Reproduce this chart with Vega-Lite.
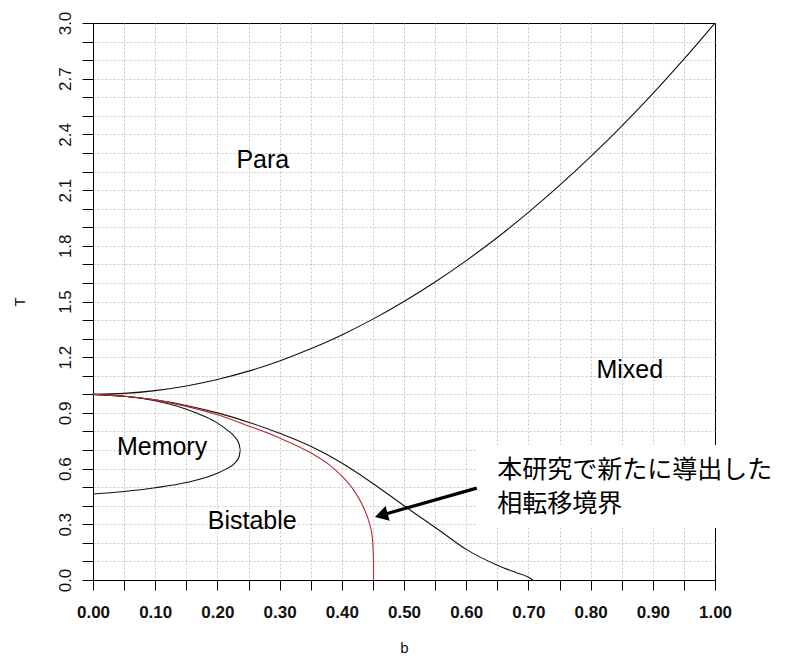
{
  "$schema": "https://vega.github.io/schema/vega-lite/v6.json",
  "width": 622,
  "height": 557,
  "autosize": {"type": "none"},
  "padding": {"left": 93, "top": 23, "right": 75, "bottom": 85},
  "background": "white",
  "config": {
    "font": "Liberation Sans",
    "view": {"stroke": "black", "strokeWidth": 1},
    "axis": {
      "domainColor": "black",
      "tickColor": "black",
      "labelColor": "#111111",
      "titleColor": "#111111",
      "gridColor": "#c8c8c8",
      "gridDash": [2, 2],
      "gridWidth": 1,
      "labelOverlap": false,
      "labelFlush": false,
      "titleFontWeight": "normal",
      "tickCount": 60
    }
  },
  "datasets": {
    "curves": [
      {"series": "upper", "order": 0, "b": 0.0, "T": 1.0},
      {"series": "upper", "order": 1, "b": 0.05, "T": 1.005},
      {"series": "upper", "order": 2, "b": 0.1, "T": 1.02},
      {"series": "upper", "order": 3, "b": 0.15, "T": 1.045},
      {"series": "upper", "order": 4, "b": 0.2, "T": 1.08},
      {"series": "upper", "order": 5, "b": 0.25, "T": 1.125},
      {"series": "upper", "order": 6, "b": 0.3, "T": 1.18},
      {"series": "upper", "order": 7, "b": 0.35, "T": 1.245},
      {"series": "upper", "order": 8, "b": 0.4, "T": 1.32},
      {"series": "upper", "order": 9, "b": 0.45, "T": 1.405},
      {"series": "upper", "order": 10, "b": 0.5, "T": 1.5},
      {"series": "upper", "order": 11, "b": 0.55, "T": 1.605},
      {"series": "upper", "order": 12, "b": 0.6, "T": 1.72},
      {"series": "upper", "order": 13, "b": 0.65, "T": 1.845},
      {"series": "upper", "order": 14, "b": 0.7, "T": 1.98},
      {"series": "upper", "order": 15, "b": 0.75, "T": 2.125},
      {"series": "upper", "order": 16, "b": 0.8, "T": 2.28},
      {"series": "upper", "order": 17, "b": 0.85, "T": 2.445},
      {"series": "upper", "order": 18, "b": 0.9, "T": 2.62},
      {"series": "upper", "order": 19, "b": 0.95, "T": 2.805},
      {"series": "upper", "order": 20, "b": 1.0, "T": 3.0},

      {"series": "lower", "order": 0, "b": 0.0, "T": 1.0},
      {"series": "lower", "order": 1, "b": 0.05, "T": 0.99},
      {"series": "lower", "order": 2, "b": 0.1, "T": 0.97},
      {"series": "lower", "order": 3, "b": 0.15, "T": 0.94},
      {"series": "lower", "order": 4, "b": 0.2, "T": 0.9},
      {"series": "lower", "order": 5, "b": 0.25, "T": 0.85},
      {"series": "lower", "order": 6, "b": 0.3, "T": 0.79},
      {"series": "lower", "order": 7, "b": 0.35, "T": 0.72},
      {"series": "lower", "order": 8, "b": 0.4, "T": 0.63},
      {"series": "lower", "order": 9, "b": 0.45, "T": 0.52},
      {"series": "lower", "order": 10, "b": 0.5, "T": 0.4},
      {"series": "lower", "order": 11, "b": 0.53, "T": 0.33},
      {"series": "lower", "order": 12, "b": 0.56, "T": 0.26},
      {"series": "lower", "order": 13, "b": 0.6, "T": 0.165},
      {"series": "lower", "order": 14, "b": 0.65, "T": 0.08},
      {"series": "lower", "order": 15, "b": 0.68, "T": 0.04},
      {"series": "lower", "order": 16, "b": 0.7, "T": 0.015},
      {"series": "lower", "order": 17, "b": 0.707, "T": 0.0},

      {"series": "memory", "order": 0, "b": 0.0, "T": 1.0},
      {"series": "memory", "order": 1, "b": 0.05, "T": 0.99},
      {"series": "memory", "order": 2, "b": 0.1, "T": 0.965},
      {"series": "memory", "order": 3, "b": 0.15, "T": 0.92},
      {"series": "memory", "order": 4, "b": 0.18, "T": 0.88},
      {"series": "memory", "order": 5, "b": 0.2, "T": 0.845},
      {"series": "memory", "order": 6, "b": 0.215, "T": 0.81},
      {"series": "memory", "order": 7, "b": 0.228, "T": 0.77},
      {"series": "memory", "order": 8, "b": 0.235, "T": 0.73},
      {"series": "memory", "order": 9, "b": 0.237, "T": 0.7},
      {"series": "memory", "order": 10, "b": 0.235, "T": 0.665},
      {"series": "memory", "order": 11, "b": 0.228, "T": 0.63},
      {"series": "memory", "order": 12, "b": 0.215, "T": 0.6},
      {"series": "memory", "order": 13, "b": 0.2, "T": 0.575},
      {"series": "memory", "order": 14, "b": 0.15, "T": 0.525},
      {"series": "memory", "order": 15, "b": 0.1, "T": 0.497},
      {"series": "memory", "order": 16, "b": 0.05, "T": 0.477},
      {"series": "memory", "order": 17, "b": 0.0, "T": 0.463},

      {"series": "new", "order": 0, "b": 0.0, "T": 1.0},
      {"series": "new", "order": 1, "b": 0.05, "T": 0.99},
      {"series": "new", "order": 2, "b": 0.1, "T": 0.97},
      {"series": "new", "order": 3, "b": 0.15, "T": 0.935},
      {"series": "new", "order": 4, "b": 0.2, "T": 0.89},
      {"series": "new", "order": 5, "b": 0.25, "T": 0.83},
      {"series": "new", "order": 6, "b": 0.3, "T": 0.765},
      {"series": "new", "order": 7, "b": 0.35, "T": 0.685},
      {"series": "new", "order": 8, "b": 0.38, "T": 0.62},
      {"series": "new", "order": 9, "b": 0.4, "T": 0.56},
      {"series": "new", "order": 10, "b": 0.42, "T": 0.48},
      {"series": "new", "order": 11, "b": 0.435, "T": 0.39},
      {"series": "new", "order": 12, "b": 0.444, "T": 0.31},
      {"series": "new", "order": 13, "b": 0.449, "T": 0.23},
      {"series": "new", "order": 14, "b": 0.451, "T": 0.1},
      {"series": "new", "order": 15, "b": 0.451, "T": 0.0}
    ],
    "regions": [
      {"label": "Para", "b": 0.273, "T": 2.26},
      {"label": "Mixed", "b": 0.863, "T": 1.13},
      {"label": "Memory", "b": 0.111, "T": 0.716},
      {"label": "Bistable", "b": 0.256, "T": 0.318}
    ],
    "note": [
      {"line": "本研究で新たに導出した", "b": 0.65, "T": 0.595},
      {"line": "相転移境界", "b": 0.65, "T": 0.41}
    ],
    "box": [
      {"b1": 0.617, "b2": 1.12, "T1": 0.28, "T2": 0.727}
    ],
    "arrow": [
      {"b1": 0.617, "T1": 0.495, "b2": 0.4635, "T2": 0.349}
    ]
  },
  "layer": [
    {
      "data": {"name": "box"},
      "mark": {"type": "rect", "fill": "white", "stroke": null, "clip": false},
      "encoding": {
        "x": {"field": "b1", "type": "quantitative",
          "scale": {"domain": [0, 1], "nice": false, "zero": false},
          "axis": {
            "values": [0, 0.05, 0.1, 0.15, 0.2, 0.25, 0.3, 0.35, 0.4, 0.45, 0.5, 0.55, 0.6, 0.65, 0.7, 0.75, 0.8, 0.85, 0.9, 0.95, 1.0],
            "tickCount": 60,
            "labelExpr": "round(datum.value*100) % 10 == 0 ? format(datum.value, '.2f') : ''",
            "labelFontSize": 17,
            "labelFontWeight": "bold",
            "labelPadding": 14,
            "tickSize": 10,
            "gridOpacity": {"condition": {"test": "datum.value > 0.999", "value": 0}, "value": 1},
            "title": "b",
            "titleFontSize": 15,
            "titlePadding": 20
          }
        },
        "x2": {"field": "b2"},
        "y": {"field": "T1", "type": "quantitative",
          "scale": {"domain": [0, 3], "nice": false, "zero": false},
          "axis": {
            "values": [0, 0.1, 0.2, 0.3, 0.4, 0.5, 0.6, 0.7, 0.8, 0.9, 1.0, 1.1, 1.2, 1.3, 1.4, 1.5, 1.6, 1.7, 1.8, 1.9, 2.0, 2.1, 2.2, 2.3, 2.4, 2.5, 2.6, 2.7, 2.8, 2.9, 3.0],
            "tickCount": 60,
            "labelExpr": "round(datum.value*10) % 3 == 0 ? format(datum.value, '.1f') : ''",
            "labelFontSize": 17,
            "labelAngle": -90,
            "labelAlign": "center",
            "labelBaseline": "alphabetic",
            "labelPadding": 12,
            "tickSize": 11,
            "gridOpacity": {"condition": {"test": "datum.value > 2.999", "value": 0}, "value": 1},
            "title": "T",
            "titleFontSize": 15,
            "titlePadding": 29
          }
        },
        "y2": {"field": "T2"}
      }
    },
    {
      "data": {"name": "curves"},
      "mark": {"type": "line", "strokeWidth": 1.1, "interpolate": "monotone"},
      "encoding": {
        "x": {"field": "b", "type": "quantitative"},
        "y": {"field": "T", "type": "quantitative"},
        "detail": {"field": "series"},
        "order": {"field": "order", "type": "quantitative"},
        "color": {"field": "series", "type": "nominal",
          "scale": {"domain": ["upper", "lower", "memory", "new"], "range": ["#111111", "#111111", "#111111", "#c0282d"]},
          "legend": null}
      }
    },
    {
      "data": {"name": "arrow"},
      "mark": {"type": "rule", "strokeWidth": 3.2, "color": "black", "clip": false},
      "encoding": {
        "x": {"field": "b1", "type": "quantitative"},
        "y": {"field": "T1", "type": "quantitative"},
        "x2": {"field": "b2"},
        "y2": {"field": "T2"}
      }
    },
    {
      "data": {"name": "arrow"},
      "mark": {"type": "point", "shape": "triangle-left", "filled": true, "color": "black", "opacity": 1, "size": 230, "angle": 344},
      "encoding": {
        "x": {"field": "b2", "type": "quantitative"},
        "y": {"field": "T2", "type": "quantitative"}
      }
    },
    {
      "data": {"name": "regions"},
      "mark": {"type": "text", "fontSize": 25, "color": "black", "align": "center", "baseline": "middle", "font": "Liberation Sans"},
      "encoding": {
        "x": {"field": "b", "type": "quantitative"},
        "y": {"field": "T", "type": "quantitative"},
        "text": {"field": "label"}
      }
    },
    {
      "data": {"name": "note"},
      "mark": {"type": "text", "fontSize": 25, "color": "black", "align": "left", "baseline": "middle", "font": "Noto Sans CJK JP", "clip": false},
      "encoding": {
        "x": {"field": "b", "type": "quantitative"},
        "y": {"field": "T", "type": "quantitative"},
        "text": {"field": "line"}
      }
    }
  ]
}
